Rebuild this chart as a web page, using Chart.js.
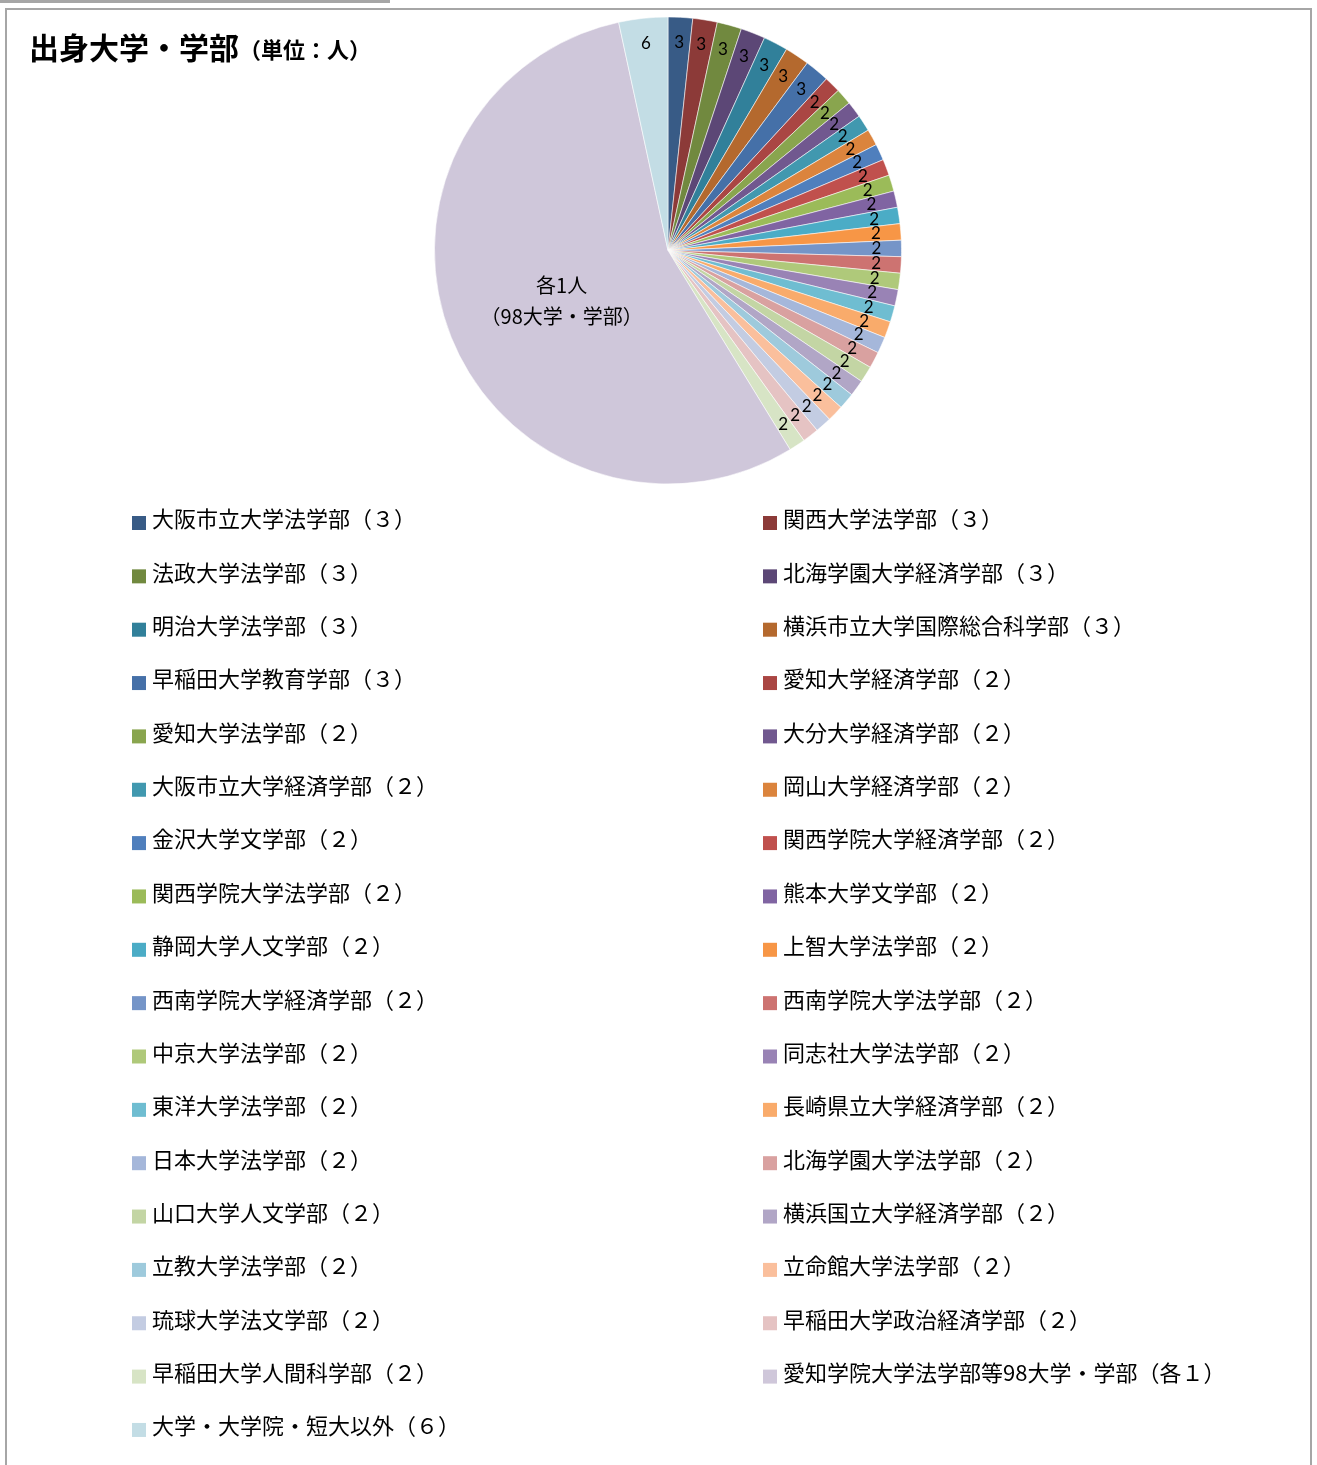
<!DOCTYPE html>
<html><head><meta charset="utf-8">
<script src="https://cdn.jsdelivr.net/npm/chart.js@4"></script>
<style>
html,body{margin:0;padding:0;background:#fff;width:1317px;height:1465px;overflow:hidden;}
#topbar{position:absolute;left:0;top:0;width:390px;height:3px;background:#a6a6a6;}
#box{position:absolute;left:5px;top:8px;width:1307px;height:1480px;border:2px solid #a6a6a6;box-sizing:border-box;}
#wrap{position:absolute;left:7px;top:10px;width:1302px;height:1455px;}
</style></head>
<body>
<div id="topbar"></div>
<div id="box"></div>
<div id="wrap"><canvas id="c"></canvas></div>
<script>
const titleMain = '出身大学・学部';
const titleUnit = '（単位：人）';

const categories = [
  '大阪市立大学法学部（３）','関西大学法学部（３）',
  '法政大学法学部（３）','北海学園大学経済学部（３）',
  '明治大学法学部（３）','横浜市立大学国際総合科学部（３）',
  '早稲田大学教育学部（３）','愛知大学経済学部（２）',
  '愛知大学法学部（２）','大分大学経済学部（２）',
  '大阪市立大学経済学部（２）','岡山大学経済学部（２）',
  '金沢大学文学部（２）','関西学院大学経済学部（２）',
  '関西学院大学法学部（２）','熊本大学文学部（２）',
  '静岡大学人文学部（２）','上智大学法学部（２）',
  '西南学院大学経済学部（２）','西南学院大学法学部（２）',
  '中京大学法学部（２）','同志社大学法学部（２）',
  '東洋大学法学部（２）','長崎県立大学経済学部（２）',
  '日本大学法学部（２）','北海学園大学法学部（２）',
  '山口大学人文学部（２）','横浜国立大学経済学部（２）',
  '立教大学法学部（２）','立命館大学法学部（２）',
  '琉球大学法文学部（２）','早稲田大学政治経済学部（２）',
  '早稲田大学人間科学部（２）','愛知学院大学法学部等98大学・学部（各１）',
  '大学・大学院・短大以外（６）'
];

const counts = [3,3,3,3,3,3,3,2,2,2,2,2,2,2,2,2,2,2,2,2,2,2,2,2,2,2,2,2,2,2,2,2,2,98,6];

const sliceColors = [
  '#385B86','#8C3A38','#71893F','#5C4776','#31809A','#B4692E',
  '#4570A8','#AA4643','#89A54E','#71588F','#4198AF','#DB843D',
  '#4F7FBD','#C0504D','#9BBB59','#8064A2','#4BACC6','#F79646',
  '#7595C8','#CD7371','#AFC97A','#9983B5','#6FBDD1','#F9AB6B',
  '#A5B7DA','#D9A1A0','#C3D5A4','#B1A6C6','#9ECADC','#FABF9C',
  '#C3CCE2','#E5C3C3','#D7E4C5','#CFC7DA','#C3DDE5'
];

const bigSliceLabel = ['各1人', '（98大学・学部）'];

const CJK = '"Noto Sans CJK JP","Noto Sans",sans-serif';

const titlePlugin = {
  id: 'titleDraw',
  afterDraw(chart) {
    const ctx = chart.ctx;
    ctx.save();
    ctx.fillStyle = '#000';
    ctx.textBaseline = 'middle';
    ctx.font = 'bold 30px ' + CJK;
    ctx.fillText(titleMain, 22, 38);
    const w = ctx.measureText(titleMain).width;
    ctx.font = 'bold 22px ' + CJK;
    ctx.fillText(titleUnit, 22 + w, 40);
    ctx.restore();
  }
};

const labelPlugin = {
  id: 'sliceLabels',
  afterDatasetsDraw(chart) {
    const ctx = chart.ctx;
    const meta = chart.getDatasetMeta(0);
    const data = chart.data.datasets[0].data;
    ctx.save();
    ctx.fillStyle = '#000';
    ctx.textAlign = 'center';
    ctx.textBaseline = 'middle';
    meta.data.forEach((arc, i) => {
      const p = arc.getProps(['x','y','startAngle','endAngle','outerRadius'], true);
      const mid = (p.startAngle + p.endAngle) / 2;
      if (data[i] > 10) {
        const r = p.outerRadius * 0.5;
        const cx = p.x + Math.cos(mid) * r + 2;
        const cy = p.y + Math.sin(mid) * r + 6;
        ctx.font = '20px ' + CJK;
        ctx.fillText(bigSliceLabel[0], cx, cy - 15);
        ctx.fillText(bigSliceLabel[1], cx, cy + 16);
      } else {
        const r = p.outerRadius * 0.893;
        ctx.font = '17px Lato, "Open Sans", sans-serif';
        ctx.fillText(String(data[i]), p.x + Math.cos(mid) * r, p.y + Math.sin(mid) * r);
      }
    });
    ctx.restore();
  }
};

const legendPlugin = {
  id: 'gridLegend',
  afterDraw(chart) {
    const ctx = chart.ctx;
    const labels = chart.data.labels;
    const colors = chart.data.datasets[0].backgroundColor;
    const colX = [125, 756];
    const y0 = 509, dy = 53.35;
    ctx.save();
    ctx.textBaseline = 'middle';
    ctx.font = '22px ' + CJK;
    labels.forEach((lab, i) => {
      const col = i % 2, row = Math.floor(i / 2);
      const x = colX[col], y = y0 + row * dy;
      ctx.fillStyle = colors[i];
      ctx.fillRect(x, y - 3, 14, 14);
      ctx.fillStyle = '#000';
      ctx.fillText(lab, x + 20, y);
    });
    ctx.restore();
  }
};

new Chart(document.getElementById('c'), {
  type: 'pie',
  data: {
    labels: categories,
    datasets: [{
      data: counts,
      backgroundColor: sliceColors,
      borderColor: 'rgba(255,255,255,0.55)',
      borderWidth: 1,
      hoverOffset: 0
    }]
  },
  options: {
    responsive: true,
    maintainAspectRatio: false,
    animation: false,
    layout: { padding: { left: 427, right: 407, top: 6, bottom: 980 } },
    plugins: {
      legend: { display: false },
      tooltip: { enabled: false },
      title: { display: false }
    }
  },
  plugins: [titlePlugin, labelPlugin, legendPlugin]
});
</script>
</body></html>
